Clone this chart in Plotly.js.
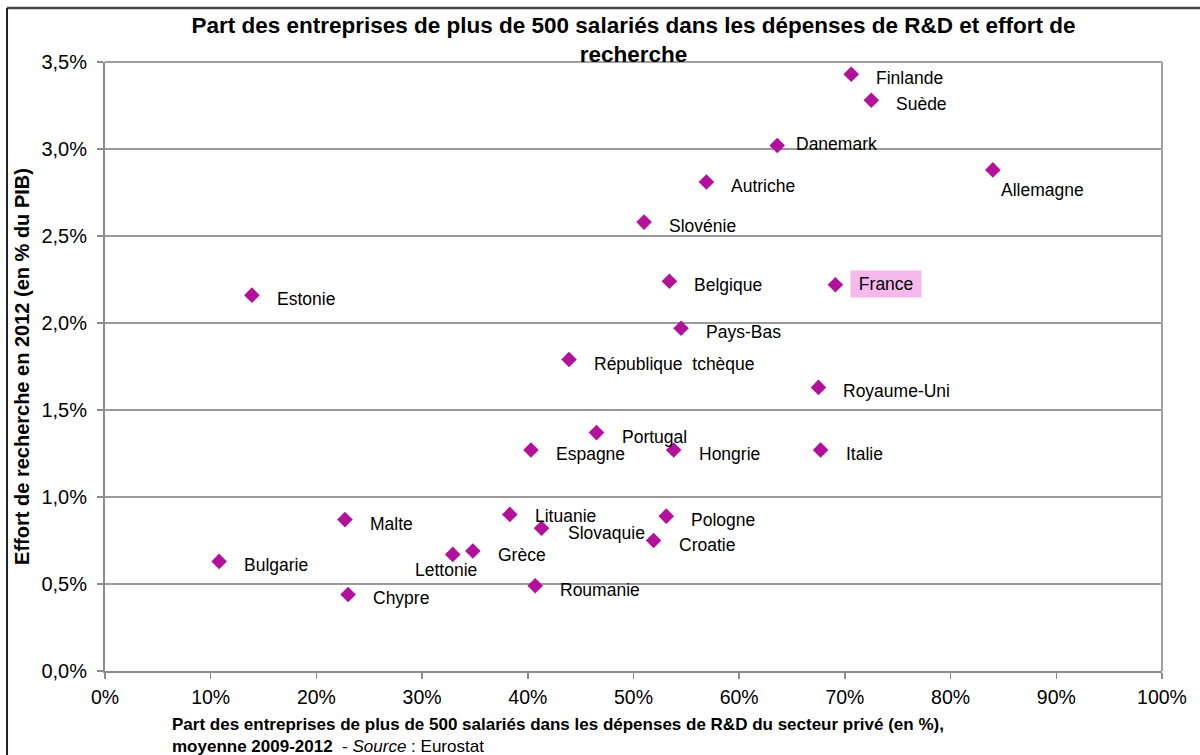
<!DOCTYPE html>
<html>
<head>
<meta charset="utf-8">
<script src="https://cdn.plot.ly/plotly-3.0.1.min.js"></script>
<style>html,body{margin:0;padding:0;background:#fff;}#chart{width:1200px;height:755px;}</style>
</head>
<body>
<div id="chart"></div>
<script>
// Data
const countries = ["Finlande","Suède","Danemark","Allemagne","Autriche","Slovénie","Estonie","Belgique","France","Pays-Bas","République  tchèque","Royaume-Uni","Portugal","Espagne","Hongrie","Italie","Malte","Lituanie","Slovaquie","Pologne","Croatie","Bulgarie","Lettonie","Grèce","Roumanie","Chypre"];
const partGrandesEntreprises = [70.6,72.5,63.6,84.0,56.9,51.0,13.9,53.4,69.1,54.5,43.9,67.5,46.5,40.3,53.8,67.7,22.7,38.3,41.3,53.1,51.9,10.8,32.9,34.8,40.7,23.0];
const effortRecherche = [3.43,3.28,3.02,2.88,2.81,2.58,2.16,2.24,2.22,1.97,1.79,1.63,1.37,1.27,1.27,1.27,0.87,0.90,0.82,0.89,0.75,0.63,0.67,0.69,0.49,0.44];
const xTickVals = [0,10,20,30,40,50,60,70,80,90,100];
const xTickText = ["0%","10%","20%","30%","40%","50%","60%","70%","80%","90%","100%"];
const yTickVals = [0,0.5,1,1.5,2,2.5,3,3.5];
const yTickText = ["0,0%","0,5%","1,0%","1,5%","2,0%","2,5%","3,0%","3,5%"];

const FONT = "Liberation Sans, Arial, sans-serif";
const MARK = "#B3119B";

// label placement tweaks (pixels)
const defaultShift = {x: 23, y: -4, anchor: "left"};
const specialShift = {
  "Allemagne": {x: 6, y: -20, anchor: "left"},
  "Lettonie": {x: -7, y: -16, anchor: "center"},
  "Danemark": {x: 17, y: 2, anchor: "left"},
  "Lituanie": {x: 23, y: -2, anchor: "left"},
  "Slovaquie": {x: 24, y: -5, anchor: "left"},
  "France": {x: 15, y: 1, anchor: "left"}
};

const annotations = countries.map((c, i) => {
  const s = specialShift[c] || defaultShift;
  const a = {
    x: partGrandesEntreprises[i], y: effortRecherche[i], xref: "x", yref: "y",
    text: c, showarrow: false, xanchor: s.anchor, yanchor: "middle",
    xshift: s.x, yshift: s.y,
    font: {family: FONT, size: 17.5, color: "#000"}
  };
  if (c === "France") { a.text = "\u00a0" + c + "\u00a0"; a.bgcolor = "#F5B9EC"; a.borderpad = 3; }
  return a;
});

annotations.push({
  xref: "paper", yref: "paper", x: 0.0615, y: -0.069, xanchor: "left", yanchor: "top",
  align: "left", showarrow: false,
  text: "<b>Part des entreprises de plus de 500 salariés dans les dépenses de R&D du secteur privé (en %),</b><br><b>moyenne 2009-2012</b>  - <i>Source</i> : Eurostat",
  font: {family: FONT, size: 17, color: "#000"}
});

const trace = {
  type: "scatter", mode: "markers",
  x: partGrandesEntreprises, y: effortRecherche, text: countries,
  marker: {symbol: "diamond", size: 12, color: MARK, line: {width: 0}},
  hoverinfo: "text+x+y", cliponaxis: false
};

const layout = {
  width: 1200, height: 755,
  paper_bgcolor: "#fff", plot_bgcolor: "#fff",
  margin: {l: 105, r: 38, t: 62, b: 84},
  showlegend: false,
  font: {family: FONT, size: 17, color: "#000"},
  title: {
    text: "<b>Part des entreprises de plus de 500 salariés dans les dépenses de R&D et effort de<br>recherche</b>",
    x: 0.5, xref: "paper", xanchor: "center",
    y: 0.956, yref: "container", yanchor: "top",
    font: {family: FONT, size: 22.5, color: "#000"}
  },
  xaxis: {
    range: [0, 100], tickmode: "array", tickvals: xTickVals, ticktext: xTickText,
    showgrid: false, zeroline: false,
    showline: true, linecolor: "#8c8c8c", linewidth: 2,
    ticks: "outside", ticklen: 6, tickcolor: "#8c8c8c", tickwidth: 1.5,
    ticklabelstandoff: 2,
    tickfont: {family: FONT, size: 19.5, color: "#000"},
    fixedrange: true
  },
  yaxis: {
    range: [0, 3.5], tickmode: "array", tickvals: yTickVals, ticktext: yTickText,
    showgrid: true, gridcolor: "#9a9a9a", gridwidth: 1.5,
    zeroline: false,
    showline: true, linecolor: "#8c8c8c", linewidth: 2,
    ticks: "outside", ticklen: 6, tickcolor: "#8c8c8c", tickwidth: 1.5,
    ticklabelstandoff: 6,
    tickfont: {family: FONT, size: 20, color: "#000"},
    title: {text: "<b>Effort de recherche en 2012 (en % du PIB)</b>", standoff: 6, font: {family: FONT, size: 20, color: "#000"}},
    automargin: false,
    fixedrange: true
  },
  shapes: [
    {type: "line", xref: "paper", yref: "paper", x0: 1, x1: 1, y0: 0, y1: 1, line: {color: "#a0a0a0", width: 2}},
    {type: "line", xref: "paper", yref: "paper", x0: 0, x1: 1, y0: 1, y1: 1, line: {color: "#a0a0a0", width: 2}},
    {type: "line", xref: "paper", yref: "paper", x0: -0.0927, x1: 1.2, y0: 1.0888, y1: 1.0888, line: {color: "#444", width: 2.5}},
    {type: "line", xref: "paper", yref: "paper", x0: -0.0927, x1: -0.0927, y0: 1.0888, y1: -0.2, line: {color: "#222", width: 2}}
  ],
  annotations: annotations
};

Plotly.newPlot("chart", [trace], layout, {displayModeBar: false, staticPlot: true});
</script>
</body>
</html>
